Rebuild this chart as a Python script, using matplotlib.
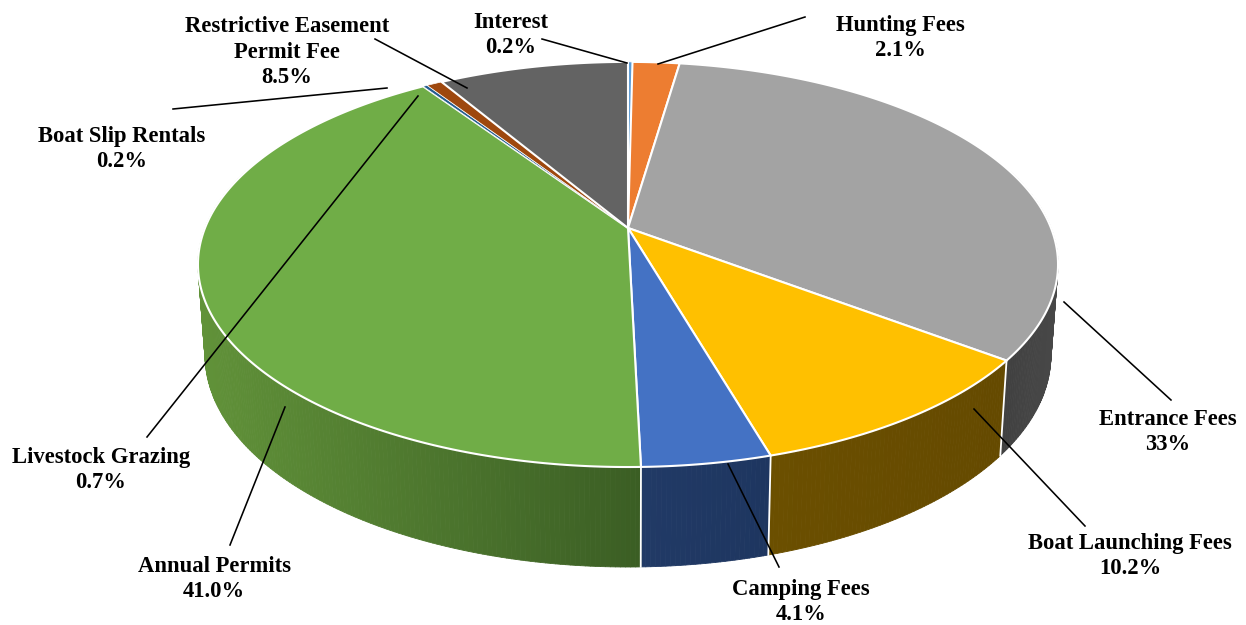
import numpy as np
import matplotlib
matplotlib.use("Agg")
import matplotlib.pyplot as plt
from matplotlib.collections import PolyCollection
from matplotlib.colors import to_rgb

# values, clockwise from the top of the pie
names = ["Interest", "Hunting Fees", "Entrance Fees", "Boat Launching Fees", "Camping Fees",
         "Annual Permits", "Boat Slip Rentals", "Livestock Grazing", "Restrictive Easement\nPermit Fee"]
values = [0.2, 2.1, 33.0, 10.2, 4.1, 41.0, 0.2, 0.7, 8.5]
shown = ["0.2%", "2.1%", "33%", "10.2%", "4.1%", "41.0%", "0.2%", "0.7%", "8.5%"]

top_colors = ["#5B9BD5", "#ED7D31", "#A3A3A3", "#FFC000", "#4472C4", "#70AD47", "#255E91", "#9E480E", "#636363"]
wall_right = ["#37618a", "#8f4b1d", "#484848", "#654a00", "#1e3660", "#3b5e24", "#16385a", "#5f2b08", "#3b3b3b"]
wall_left = ["#37618a", "#8f4b1d", "#404040", "#6b4f00", "#213a66", "#619239", "#16385a", "#5f2b08", "#3b3b3b"]

# label centres and leader lines, in pixels
label_x = [511, 900, 1168, 1130, 801, 214, 122, 101, 287]
label_y = [35, 38, 432, 556, 602, 579, 149, 470, 52]
lead_x = [(542, 627), (658, 805), (1064, 1171), (974, 1085), (728, 779), (285, 230), (173, 387), (418, 147), (375, 467)]
lead_y = [(39, 63), (64, 17), (302, 400), (409, 526), (464, 567), (407, 545), (109, 88), (96, 437), (39, 88)]

W, H = 1246, 625
cx, cy = 628, 228
persp = 0.18


def rim(theta, a, b, y0):
    # pie is a tilted disc, so the apex sits above the middle of the ellipse
    X, Y = np.sin(theta), np.cos(theta)
    d = 1 + persp * Y
    return cx + a * X / d, y0 - b * Y / d


def top_rim(theta):
    return rim(theta, 423, 196, cy)


def low_rim(theta):
    return rim(theta, 416, 205, 317)


fig = plt.figure(figsize=(W / 100, H / 100), dpi=100)
ax = fig.add_axes([0, 0, 1, 1])
ax.set_xlim(0, W)
ax.set_ylim(H, 0)
ax.axis("off")

edges = np.cumsum([0] + values) / sum(values) * 2 * np.pi
vis_a, vis_b = np.radians(72), np.radians(288)

# side wall, shaded left to right on screen
for i in range(len(values)):
    t0, t1 = max(edges[i], vis_a), min(edges[i + 1], vis_b)
    if t1 <= t0:
        continue
    ts = np.linspace(t0, t1, int((t1 - t0) * 100) + 2)
    tx, ty = top_rim(ts)
    lx, ly = low_rim(ts)
    quads = []
    cols = []
    c_r, c_l = np.array(to_rgb(wall_right[i])), np.array(to_rgb(wall_left[i]))
    for j in range(len(ts) - 1):
        quads.append([(tx[j], ty[j]), (tx[j + 1], ty[j + 1]), (lx[j + 1], ly[j + 1]), (lx[j], ly[j])])
        f = (tx.max() - tx[j]) / (tx.max() - tx.min())
        cols.append(c_r + (c_l - c_r) * f)
    ax.add_collection(PolyCollection(quads, facecolors=cols, edgecolors=cols, linewidths=0.6, zorder=2))

# white seams down the wall
for t in edges[:-1]:
    if np.radians(100) < t < np.radians(260):
        tx, ty = top_rim(t)
        lx, ly = low_rim(t)
        ax.plot([tx, lx], [ty, ly], color="white", lw=1.3, zorder=3)

# top face
for i in range(len(values)):
    ts = np.linspace(edges[i], edges[i + 1], max(int((edges[i + 1] - edges[i]) * 120), 2) + 1)
    x, y = top_rim(ts)
    ax.fill(np.r_[cx, x], np.r_[cy, y], facecolor=top_colors[i], edgecolor="white",
            lw=1.5 if values[i] > 1 else 0.5, joinstyle="round", zorder=4)

# labels and leaders
for i in range(len(names)):
    ax.plot(lead_x[i], lead_y[i], color="black", lw=1.15, zorder=5)
    ax.text(label_x[i], label_y[i], names[i] + "\n" + shown[i], ha="center", va="center",
            family="Liberation Serif", weight="bold", fontsize=16.3, linespacing=1.3, color="black", zorder=6)

fig.savefig("out.png", dpi=100)
